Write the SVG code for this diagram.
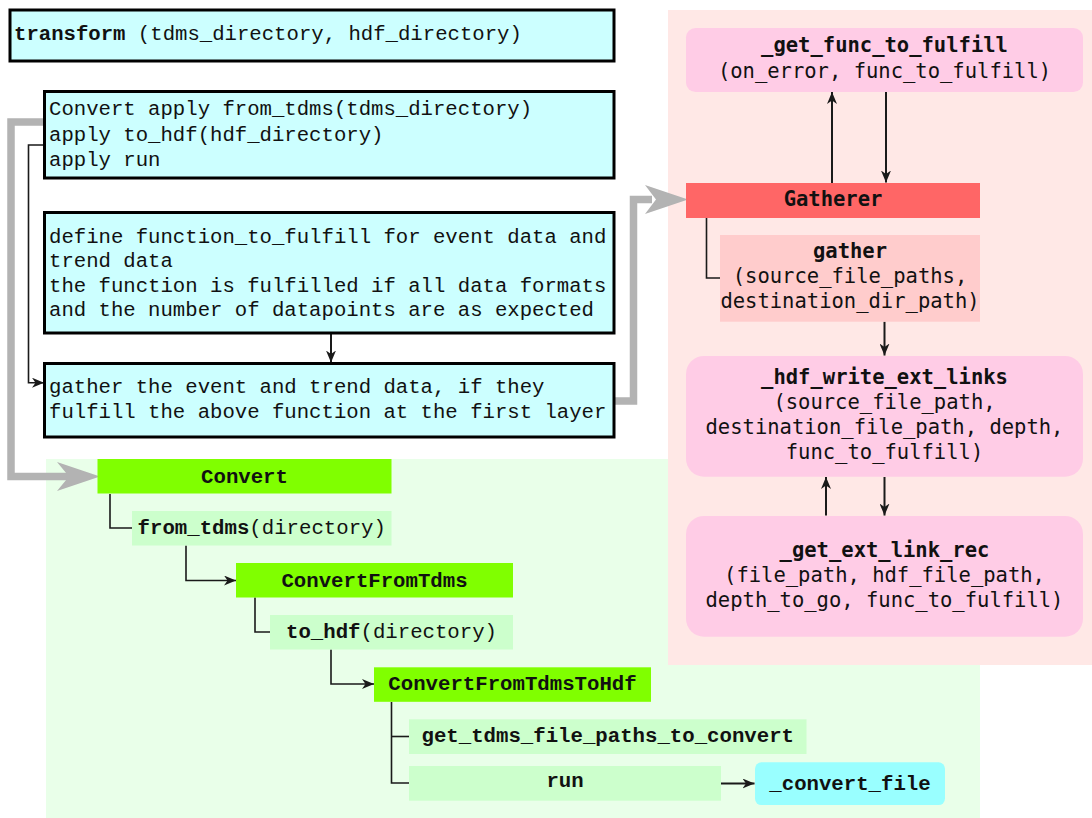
<svg xmlns="http://www.w3.org/2000/svg" width="1092" height="818" viewBox="0 0 1092 818">
  <defs>
    <style>
      .lm{font-family:"Liberation Mono","Courier New",monospace;font-size:20.65px;fill:#111}
      .gm{font-family:"Liberation Mono","Courier New",monospace;font-size:20.7px;fill:#111;text-anchor:middle}
      .dm{font-family:"DejaVu Sans Mono",monospace;font-size:20.5px;fill:#111;text-anchor:middle}
      .b{font-weight:bold}
      .step{fill:#ccffff;stroke:#000;stroke-width:3}
      .wire{fill:none;stroke:#1a1a1a;stroke-width:1.6}
      .wire2{fill:none;stroke:#1a1a1a;stroke-width:2}
      .flow{fill:none;stroke:#b3b3b3;stroke-width:7.5}
      .flowhead{fill:#b3b3b3}
      .cls{fill:#80ff00}
      .meth{fill:#ccffcc}
      .pk{fill:#ffcce6}
    </style>
    <marker id="arr" markerUnits="userSpaceOnUse" markerWidth="12" markerHeight="10" refX="12" refY="5" orient="auto">
      <path d="M0,0 L12,5 L0,10 L3.5,5 z" fill="#1a1a1a"/>
    </marker>
  </defs>

  <rect x="0" y="0" width="1092" height="818" fill="#ffffff"/>

  <!-- swimlane backgrounds -->
  <g id="lanes">
    <rect x="46" y="459" width="934" height="359" fill="#e9ffe9"/>
    <rect x="668" y="10" width="424" height="655" fill="#ffe8e6"/>
  </g>

  <!-- connectors -->
  <g id="connectors">
    <path class="flow" d="M44,122 H11 V476.5 H70"/>
    <polygon class="flowhead" points="100,476.5 57,462 69,476.5 57,491"/>
    <path class="flow" d="M614,401 H633.5 V199.5 H652"/>
    <polygon class="flowhead" points="688,199.5 645,185 656,199.5 645,214"/>

    <path class="wire" d="M44,145 H28.5 V382.7 H44" marker-end="url(#arr)"/>
    <path class="wire2" d="M331,333.5 V362.5" marker-end="url(#arr)"/>

    <path class="wire2" d="M832,183 V92" marker-end="url(#arr)"/>
    <path class="wire2" d="M886,92 V182.5" marker-end="url(#arr)"/>
    <path class="wire" d="M706.5,218 V278 H720"/>
    <path class="wire2" d="M884.5,321.7 V355.5" marker-end="url(#arr)"/>
    <path class="wire2" d="M826,515.5 V477" marker-end="url(#arr)"/>
    <path class="wire2" d="M884.5,477 V515.5" marker-end="url(#arr)"/>

    <path class="wire" d="M110,494 V528 H132"/>
    <path class="wire" d="M186,545.5 V580.5 H236" marker-end="url(#arr)"/>
    <path class="wire" d="M255,597.5 V632 H270"/>
    <path class="wire" d="M331,649.5 V684 H374" marker-end="url(#arr)"/>
    <path class="wire" d="M391.5,702 V783 H409"/>
    <path class="wire" d="M391.5,736.5 H409"/>
    <path class="wire2" d="M721,783.5 H754.5" marker-end="url(#arr)"/>
  </g>

  <!-- left column: steps of transform -->
  <g id="transform">
    <rect class="step" x="10" y="10" width="604" height="51"/>
    <text class="lm" x="14" y="40"><tspan class="b">transform</tspan> (tdms_directory, hdf_directory)</text>
  </g>
  <g id="apply-steps">
    <rect class="step" x="44.5" y="91.5" width="569.5" height="86.5"/>
    <text class="lm" x="49" y="115">Convert apply from_tdms(tdms_directory)</text>
    <text class="lm" x="49" y="140.5">apply to_hdf(hdf_directory)</text>
    <text class="lm" x="49" y="166">apply run</text>
  </g>
  <g id="define-func">
    <rect class="step" x="44.5" y="212.5" width="569.5" height="120.5"/>
    <text class="lm" x="49" y="242.5">define function_to_fulfill for event data and</text>
    <text class="lm" x="49" y="267">trend data</text>
    <text class="lm" x="49" y="291.7">the function is fulfilled if all data formats</text>
    <text class="lm" x="49" y="316.3">and the number of datapoints are as expected</text>
  </g>
  <g id="gather-step">
    <rect class="step" x="44.5" y="363.5" width="569.5" height="73.5"/>
    <text class="lm" x="49" y="392.7">gather the event and trend data, if they</text>
    <text class="lm" x="49" y="418">fulfill the above function at the first layer</text>
  </g>

  <!-- Gatherer lane -->
  <g id="get-func-to-fulfill">
    <rect class="pk" x="686" y="28" width="397" height="64" rx="9.6"/>
    <text class="dm b" x="884.5" y="52">_get_func_to_fulfill</text>
    <text class="dm" x="884.5" y="78">(on_error, func_to_fulfill)</text>
  </g>
  <g id="gatherer">
    <rect x="686" y="183" width="294" height="35" fill="#ff6666"/>
    <text class="dm b" x="833" y="206">Gatherer</text>
  </g>
  <g id="gather">
    <rect x="720" y="235" width="260" height="86.7" fill="#ffcccc"/>
    <text class="dm b" x="850" y="258">gather</text>
    <text class="dm" x="850" y="283">(source_file_paths,</text>
    <text class="dm" x="850" y="308">destination_dir_path)</text>
  </g>
  <g id="hdf-write-ext-links">
    <rect class="pk" x="686" y="356" width="397" height="120.7" rx="18"/>
    <text class="dm b" x="884.5" y="384.3">_hdf_write_ext_links</text>
    <text class="dm" x="884.5" y="409.3">(source_file_path,</text>
    <text class="dm" x="884.5" y="434.3">destination_file_path, depth,</text>
    <text class="dm" x="884.5" y="459">func_to_fulfill)</text>
  </g>
  <g id="get-ext-link-rec">
    <rect class="pk" x="686" y="516" width="397" height="120.7" rx="18"/>
    <text class="dm b" x="884.5" y="556.7">_get_ext_link_rec</text>
    <text class="dm" x="884.5" y="581.7">(file_path, hdf_file_path,</text>
    <text class="dm" x="884.5" y="606.7">depth_to_go, func_to_fulfill)</text>
  </g>

  <!-- Convert lane -->
  <g id="convert">
    <rect class="cls" x="97.5" y="459" width="294" height="34.5"/>
    <text class="gm b" x="244.5" y="482.5">Convert</text>
  </g>
  <g id="from-tdms">
    <rect class="meth" x="132" y="511" width="259.5" height="34.5"/>
    <text class="gm" x="261.75" y="533.5"><tspan class="b">from_tdms</tspan>(directory)</text>
  </g>
  <g id="convert-from-tdms">
    <rect class="cls" x="236" y="563" width="277" height="34.5"/>
    <text class="gm b" x="374.5" y="587">ConvertFromTdms</text>
  </g>
  <g id="to-hdf">
    <rect class="meth" x="270" y="615" width="243" height="34.5"/>
    <text class="gm" x="391.5" y="638"><tspan class="b">to_hdf</tspan>(directory)</text>
  </g>
  <g id="convert-from-tdms-to-hdf">
    <rect class="cls" x="374" y="667.3" width="277" height="34.5"/>
    <text class="gm b" x="512.5" y="690">ConvertFromTdmsToHdf</text>
  </g>
  <g id="get-tdms-file-paths">
    <rect class="meth" x="409" y="719.3" width="397.5" height="34.7"/>
    <text class="gm b" x="607.75" y="741.7">get_tdms_file_paths_to_convert</text>
  </g>
  <g id="run">
    <rect class="meth" x="409" y="766" width="312" height="34.7"/>
    <text class="gm b" x="565" y="787">run</text>
  </g>
  <g id="convert-file">
    <rect x="755" y="762.3" width="190" height="42.7" rx="6.4" fill="#99ffff"/>
    <text class="gm b" x="850" y="790">_convert_file</text>
  </g>
</svg>
